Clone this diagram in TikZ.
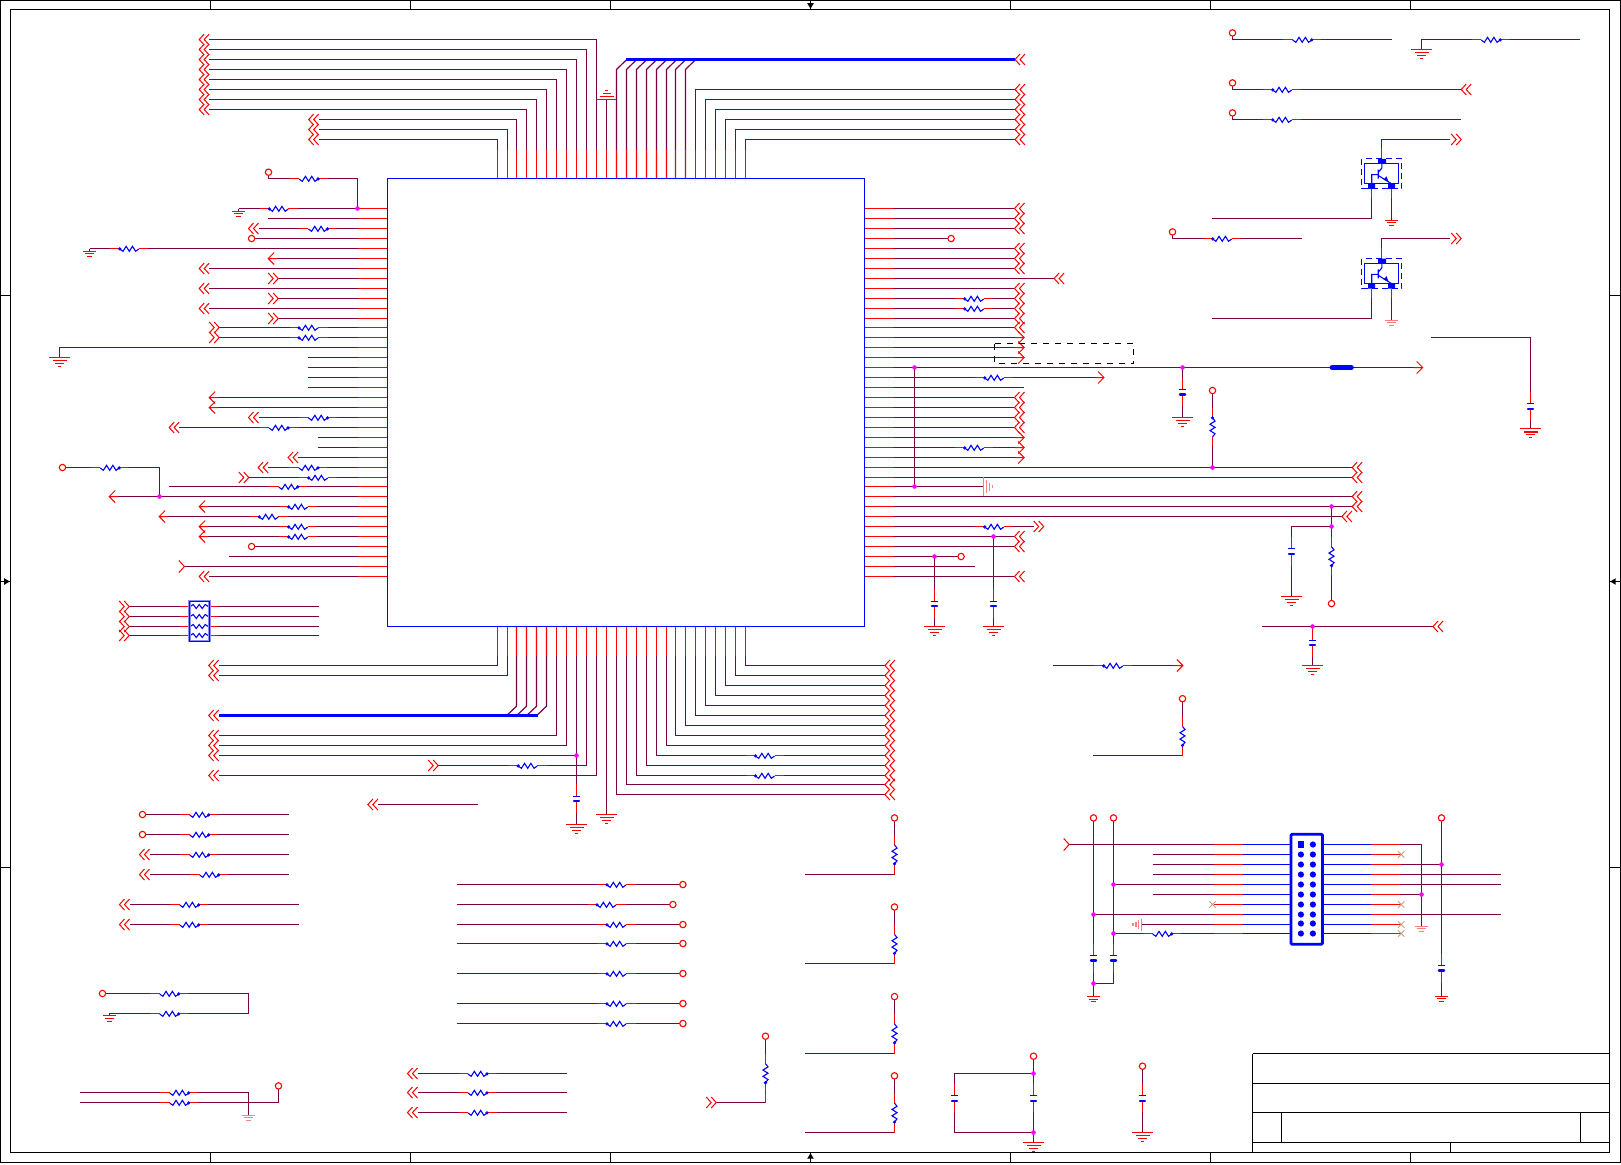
\documentclass[tikz,border=0pt]{standalone}
\definecolor{wirec}{HTML}{7D0045}
\definecolor{palered}{HTML}{FF8080}
\definecolor{xtan}{HTML}{C8A080}
\definecolor{jdc}{HTML}{FF00FF}
\tikzset{
 wirest/.style={draw=wirec,line width=.6pt},
 pinst/.style={draw=red,line width=.6pt},
 bluest/.style={draw=blue,line width=.55pt},
 portst/.style={draw=red,line width=.5pt,line join=miter},
 framest/.style={draw=black,line width=.6pt},
 busst/.style={draw=blue,line width=1.7pt},
}
\newcommand\pinL[1]{\draw[pinst] (358,#1)--(387.3,#1);}
\newcommand\pinR[1]{\draw[pinst] (864.3,#1)--(893.7,#1);}
\newcommand\pinT[1]{\draw[pinst] (#1,149.3)--(#1,178.3);}
\newcommand\pinB[1]{\draw[pinst] (#1,626.3)--(#1,655.3);}
\newcommand\Rh[3]{\begin{scope}[shift={(#1,#2)}]
 \draw[pinst] (-19,0)--(-9.5,0) (9.5,0)--(19,0);
 \fill[white] (-9.5,-3)rectangle(9.5,3);
 \draw[bluest] (-9.5,0.5)--(-6.33,2.8)--(-3.17,-2.2)--(0,2.8)--(3.17,-2.2)--(6.33,2.8)--(9.5,0.5);
 \fill[blue] (#3*9.5,0.4) circle (1.8);
 \end{scope}}
\newcommand\Rv[3]{\begin{scope}[shift={(#1,#2)}]
 \draw[pinst] (0,-19)--(0,-9.5) (0,9.5)--(0,19);
 \fill[white] (-3,-9.5)rectangle(3,9.5);
 \draw[bluest] (0,-9.5)--(2.5,-6.33)--(-2.5,-3.17)--(2.5,0)--(-2.5,3.17)--(2.5,6.33)--(0,9.5);
 \fill[blue] (0,#3*9.5) circle (1.8);
 \end{scope}}
\newcommand\dL[2]{\begin{scope}[shift={(#1,#2)}]\draw[portst] (5,-5.5)--(0,0)--(5,5.5) (10,-5.5)--(5,0)--(10,5.5);\end{scope}}
\newcommand\dR[2]{\begin{scope}[shift={(#1,#2)}]\draw[portst] (-5,-5.5)--(0,0)--(-5,5.5) (-10,-5.5)--(-5,0)--(-10,5.5);\end{scope}}
\newcommand\oL[2]{\begin{scope}[shift={(#1,#2)}]\draw[portst] (6,-6)--(0,0)--(6,6) (0,0)--(9,0);\end{scope}}
\newcommand\oR[2]{\begin{scope}[shift={(#1,#2)}]\draw[portst] (-6,-6)--(0,0)--(-6,6) (0,0)--(-9,0);\end{scope}}
\newcommand\yP[2]{\begin{scope}[shift={(#1,#2)}]\draw[portst] (-5.5,-6)--(0,0)--(-5.5,6);\end{scope}}
\newcommand\opn[2]{\draw[red,line width=.55pt,fill=white] (#1,#2) circle (3.2);}
\newcommand\jd[2]{\fill[jdc] (#1,#2) circle (2.3);}
\newcommand\gB[3][red]{\begin{scope}[shift={(#2,#3)}]\draw[draw=#1,line width=.55pt] (-10.3,0)--(10.3,0) (-7,3.3)--(7,3.3) (-4.2,6.2)--(4.2,6.2) (-1.5,9)--(1.5,9);\end{scope}}
\newcommand\gS[3][red]{\begin{scope}[shift={(#2,#3)}]\draw[draw=#1,line width=.55pt] (-6.3,0)--(6.3,0) (-4.3,2.7)--(4.3,2.7) (-2.2,5.2)--(2.2,5.2);\end{scope}}
\newcommand\capV[3]{%
 \fill[white] (#1-2,#2)rectangle(#1+2,#2+5);
 \draw[pinst] (#1,#2-12)--(#1,#2) (#1,#2+5)--(#1,#2+#3);
 \draw[bluest] (#1-3.6,#2)--(#1+3.6,#2);
 \draw[draw=blue,line width=1.1pt,line cap=round] (#1-2.6,#2+5)--(#1+2.6,#2+5);}
\newcommand\LW[2]{\draw[wirest] (#2,#1)--(387.3,#1);\pinL{#1}}
\newcommand\RW[2]{\draw[wirest] (864.3,#1)--(#2,#1);\pinR{#1}}
\newcommand\LP[2]{\LW{#1}{#2}\dL{#2-10}{#1}}
\newcommand\LQ[2]{\LW{#1}{#2}\dR{#2}{#1}}
\newcommand\RP[2]{\RW{#1}{#2}\dL{#2}{#1}}
\newcommand\TL[3]{\draw[wirest] (#1,178.3)--(#1,#2)--(#3,#2);\pinT{#1}}
\newcommand\BL[3]{\draw[wirest] (#1,626.3)--(#1,#2)--(#3,#2);\pinB{#1}}
\newcommand\VR[5]{%
 \draw[wirest] (#1,#2)--(#1,#4)--(#5,#4);
 \draw[pinst] (#1,#4-10)--(#1,#4);
 \Rv{#1}{#3}{1}\opn{#1}{#2}}
\newcommand\Qt[2]{\begin{scope}[shift={(#1,#2)}]
 \draw[draw=blue,line width=.5pt,densely dashed] (0,0) rectangle (40,30);
 \draw[bluest] (2.6,5) rectangle (37,25);
 \fill[blue] (16.3,0) rectangle (24.3,5) (6.3,24.6) rectangle (13.3,30) (26.3,24.6) rectangle (33.3,30);
 \draw[bluest] (16.3,10.6)--(16.3,19.6) (9.8,24.6)--(9.8,15.7)--(16.3,15.7) (16.3,13.5)--(20,9)--(20,5) (16.3,16.5)--(29.8,25);
 \fill[blue] (26.6,22.8)--(21.6,20.8)--(24.6,17.4)--cycle;
 \end{scope}}
\newcommand\XM[2]{\draw[draw=xtan,line width=.4pt] (#1-3.2,#2-3.2)--(#1+3.2,#2+3.2) (#1-3.2,#2+3.2)--(#1+3.2,#2-3.2);}
\begin{document}
\begin{tikzpicture}[x=.5pt,y=-.5pt]
\useasboundingbox (0,0) rectangle (1621,1164);
\fill[white] (0,0) rectangle (1621,1164);
\begin{scope}[shift={(0.2,0.2)}]
%% frame
\draw[framest] (0.3,0.3) rectangle (1620,1162.3);
\draw[framest] (10.3,9.3) rectangle (1609.3,1152.3);
\foreach \tx in {210.3,410.3,610.3,810.3,1010.3,1210.3,1410.3}{
 \draw[framest] (\tx,0.3)--(\tx,9.3) (\tx,1152.3)--(\tx,1162.3);}
\foreach \ty in {295.3,581.3,867.3}{
 \draw[framest] (0.3,\ty)--(10.3,\ty) (1609.3,\ty)--(1620,\ty);}
\fill[black] (810.3,8.5)--(807,3)--(813.6,3)--cycle;
\fill[black] (810.3,1153)--(807,1158.5)--(813.6,1158.5)--cycle;
\fill[black] (9.5,581.3)--(4,578)--(4,584.6)--cycle;
\fill[black] (1610,581.3)--(1615.5,578)--(1615.5,584.6)--cycle;
%% title block
\draw[framest] (1252.3,1053.3)--(1609.3,1053.3) (1252.3,1083.3)--(1609.3,1083.3) (1252.3,1112.3)--(1609.3,1112.3) (1252.3,1142.3)--(1609.3,1142.3);
\draw[framest] (1252.3,1053.3)--(1252.3,1152.3) (1281.3,1112.3)--(1281.3,1142.3) (1580.3,1112.3)--(1580.3,1142.3) (1450.3,1142.3)--(1450.3,1152.3);

%% ---- top side, leftwards
\foreach \px/\py/\pe in {497.3/139.3/318.5,507.3/129.3/318.5,516.3/119.3/318.5,526.3/109.3/209,536.3/99.3/209,546.3/89.3/209,556.3/79.3/209,566.3/69.3/209,576.3/59.3/209,586.3/49.3/209,596.3/39.3/209}{
 \TL{\px}{\py}{\pe}\dL{\pe-10}{\py}}
%% top ground
\draw[wirest] (606.3,178.3)--(606.3,99.3);\pinT{606.3}
\draw[portst] (596.3,99.3)--(616.3,99.3) (599.3,96.3)--(613.3,96.3) (602.3,93.3)--(610.3,93.3) (604.5,90.3)--(608.1,90.3);
%% top bus
\foreach \px in {616.3,626.3,636.3,646.3,656.3,666.3,675.3,685.3}{
 \draw[wirest] (\px,178.3)--(\px,69.3)--(\px+9.5,60);\pinT{\px}}
\draw[busst] (625.7,59.3)--(1014.8,59.3);
\dL{1014.8}{59.3}
%% top rightwards
\foreach \px/\py in {695.3/89.3,705.3/99.3,715.3/109.3,725.3/119.3,735.3/129.3,745.3/139.3}{
 \TL{\px}{\py}{1014.8}\dL{1014.8}{\py}}

%% ---- left side
\draw[wirest] (268.3,172)--(268.3,178.3)--(357.3,178.3)--(357.3,208.3);
\Rh{308.4}{178.3}{1}\opn{268.3}{172}
\LW{208.3}{238.3}\draw[wirest] (238.3,208.3)--(238.3,211);\gS{238.3}{211}\Rh{278.6}{208.3}{-1}\pinL{208.3}
\LW{218.3}{268}
\LP{228.3}{258.3}\Rh{317.7}{228.3}{1}
\LW{238.3}{254.5}\opn{251.4}{238.3}
\LW{248.3}{89.3}\draw[wirest] (89.3,248.3)--(89.3,251);\gS{89.3}{251}\Rh{129.1}{248.3}{-1}
\LW{258.3}{268}\oL{268}{258.3}
\LP{268.3}{209}
\LQ{278.3}{278}
\LP{288.3}{209}
\LQ{298.3}{278}
\LP{308.3}{209}
\LQ{318.3}{278}
\LW{327.3}{219}\dR{219}{327.3}\Rh{308.4}{327.3}{-1}
\LW{337.3}{219}\dR{219}{337.3}\Rh{308.4}{337.3}{-1}
\draw[wirest] (59.3,357.3)--(59.3,347.3)--(387.3,347.3);\pinL{347.3}\gB{59.3}{357.3}
\foreach \yy in {357.3,367.3,377.3,387.3}{\LW{\yy}{307.9}}
\LW{397.3}{209}\oL{209}{397.3}
\LW{407.3}{209}\oL{209}{407.3}
\LP{417.3}{258.3}\Rh{317.8}{417.3}{1}
\LP{427.3}{179}\Rh{278.4}{427.3}{1}
\LW{437.3}{317.5}
\LW{447.3}{317.5}
\LP{457.3}{297.9}
\LP{467.3}{268}\Rh{308.2}{467.3}{1}
\LQ{477.3}{248.6}\Rh{318}{477.3}{-1}
\LW{486.3}{168.7}\Rh{288}{486.3}{1}
\draw[wirest] (65.5,467.3)--(159.3,467.3)--(159.3,496.3);\Rh{109.5}{467.3}{1}\opn{62.3}{467.3}
\LW{496.3}{109}\oL{109}{496.3}
\LW{506.3}{199}\oL{199}{506.3}\Rh{298}{506.3}{-1}
\LW{516.3}{159}\oL{159}{516.3}\Rh{268.6}{516.3}{-1}
\LW{526.3}{199}\oL{199}{526.3}\Rh{298}{526.3}{-1}
\LW{536.3}{199}\oL{199}{536.3}\Rh{298}{536.3}{-1}
\LW{546.3}{254.5}\opn{251.4}{546.3}
\LW{556.3}{228.3}
\LW{566.3}{184.2}\yP{184.2}{566.3}
\LP{576.3}{209}

%% resistor pack
\foreach \yy in {606.3,616.3,626.3,635.3}{
 \draw[wirest] (129,\yy)--(318.5,\yy);\dR{129}{\yy}
 \draw[pinst] (180,\yy)--(189,\yy) (209,\yy)--(218,\yy);
 \fill[white] (189,\yy-3) rectangle (209,\yy+3);
 \draw[bluest] (190,\yy)--(193,\yy-2)--(196,\yy+2)--(199,\yy-2)--(202,\yy+2)--(205,\yy-2)--(208,\yy);}
\draw[draw=blue!45,line width=1.1pt] (189.3,600.7) rectangle (209.3,640.7);
\draw[draw=blue,line width=.25pt] (189.3,600.7) rectangle (209.3,640.7);

%% ---- bottom side
\BL{497.3}{665.3}{218.5}\dL{208.5}{665.3}
\BL{507.3}{675.3}{218.5}\dL{208.5}{675.3}
\foreach \px in {516.3,526.3,536.3,546.3}{
 \draw[wirest] (\px,626.3)--(\px,706)--(\px-9.5,715);\pinB{\px}}
\draw[busst] (218.5,715.3)--(537.5,715.3);\dL{208.5}{715.3}
\BL{556.3}{735.3}{218.5}\dL{208.5}{735.3}
\BL{566.3}{745.3}{218.5}\dL{208.5}{745.3}
\draw[wirest] (576.3,626.3)--(576.3,796) (576.3,801.3)--(576.3,824.3) (576.3,755.3)--(218.5,755.3);
\pinB{576.3}\capV{576.3}{796}{17}\gB{576.3}{824.3}\dL{208.5}{755.3}
\BL{586.3}{765.3}{438}\dR{438}{765.3}\Rh{527.5}{765.3}{-1}
\BL{596.3}{775.3}{218.5}\dL{208.5}{775.3}
\draw[wirest] (606.3,626.3)--(606.3,814.3);\pinB{606.3}\gB{606.3}{814.3}
\foreach \px/\py in {616.3/794.3,626.3/784.3,636.3/775.3,646.3/765.3,656.3/755.3,666.3/745.3,675.3/735.3,685.3/725.3,695.3/715.3,705.3/705.3,715.3/695.3,725.3/685.3,735.3/675.3,745.3/665.3}{
 \BL{\px}{\py}{884.7}\dL{884.7}{\py}}
\Rh{764.8}{775.3}{-1}
\Rh{764.8}{755.3}{-1}
\draw[wirest] (378.2,804.3)--(477.4,804.3);\dL{367.7}{804.3}

%% ---- right side
\RP{208.3}{1014.3}\RP{218.3}{1014.3}\RP{228.3}{1014.3}
\RW{238.3}{948}\opn{950.9}{238.3}
\RP{248.3}{1014.3}\RP{258.3}{1014.3}\RP{268.3}{1014.3}
\RP{278.3}{1053.9}
\RP{288.3}{1014.3}
\RP{298.3}{1014.3}\Rh{974}{298.3}{-1}
\RP{308.3}{1014.3}\Rh{974}{308.3}{-1}
\RP{318.3}{1014.3}\RP{327.3}{1014.3}
\RW{337.3}{1024}\oR{1024}{337.3}
\RW{347.3}{1024}\oR{1024}{347.3}
\RW{357.3}{1024}\oR{1024}{357.3}
\draw[draw=black,line width=.5pt,dashed] (994.3,343.3) rectangle (1133.3,363.3);
%% long net with inductor
\RW{367.3}{1422.5}\oR{1422.5}{367.3}
\draw[draw=blue,line width=2.6pt,line cap=round] (1332,367.3)--(1351,367.3);
\draw[wirest] (914.3,367.3)--(914.3,486.3);
\draw[wirest] (1182.3,367.3)--(1182.3,389.3) (1182.3,394.3)--(1182.3,417);
\capV{1182.3}{389.3}{16}\gB{1182.3}{417}
\RW{377.3}{1103.8}\oR{1103.8}{377.3}\Rh{994}{377.3}{-1}
\RW{387.3}{1023.9}
\RP{397.3}{1014.3}\RP{407.3}{1014.3}\RP{417.3}{1014.3}\RP{427.3}{1014.3}
\RW{437.3}{1024}\oR{1024}{437.3}
\RW{447.3}{1024}\oR{1024}{447.3}\Rh{974}{447.3}{-1}
\RW{457.3}{1024}\oR{1024}{457.3}
\RP{467.3}{1352}
\draw[wirest] (1212.3,390.3)--(1212.3,467.3);\Rv{1212.3}{427.2}{-1}\opn{1212.3}{390.3}
\RP{477.3}{1352}
\RW{486.3}{983.3}
\draw[draw=palered,line width=.8pt] (983.3,476.7)--(983.3,496.3) (986.3,480)--(986.3,493) (989.3,482.5)--(989.3,490.5) (992.3,485)--(992.3,488);
\RP{496.3}{1352}
\RP{506.3}{1352}
\RP{516.3}{1341.7}
\draw[wirest] (1331.3,506.3)--(1331.3,603.4) (1331.3,526.3)--(1291.3,526.3)--(1291.3,548.7) (1291.3,553.7)--(1291.3,596);
\Rv{1331.3}{556}{1}\opn{1331.3}{603.4}
\capV{1291.3}{548.7}{17}\gB{1291.3}{596}
\RW{526.3}{1033.5}\dR{1043.5}{526.3}\Rh{994}{526.3}{-1}
\RP{536.3}{1014.3}\RP{546.3}{1014.3}
\draw[wirest] (993.3,536.3)--(993.3,601) (993.3,606)--(993.3,626);
\capV{993.3}{601}{17}\gB{993.3}{626}
\RW{556.3}{958}\opn{960.9}{556.3}
\draw[wirest] (934.3,556.3)--(934.3,601) (934.3,606)--(934.3,626);
\capV{934.3}{601}{17}\gB{934.3}{626}
\RW{566.3}{974.3}
\RP{576.3}{1014.3}

%% IC box
\draw[draw=blue,line width=.6pt] (387.3,178.3) rectangle (864.3,626.3);

%% ---- top right
\draw[wirest] (1232.3,32.7)--(1232.3,39.3)--(1391.7,39.3);\Rh{1302}{39.3}{1}\opn{1232.3}{32.7}
\draw[wirest] (1421.3,49.3)--(1421.3,39.3)--(1580,39.3);\Rh{1490.5}{39.3}{1}\gB{1421.3}{49.3}
\draw[wirest] (1232.3,82.7)--(1232.3,89.3)--(1461,89.3);\Rh{1282}{89.3}{-1}\opn{1232.3}{82.7}\dL{1461}{89.3}
\draw[wirest] (1232.3,112.7)--(1232.3,119.3)--(1461,119.3);\Rh{1282}{119.3}{-1}\opn{1232.3}{112.7}
%% transistors
\draw[wirest] (1381.3,158.7)--(1381.3,139.3)--(1450,139.3);\draw[pinst] (1381.3,148)--(1381.3,158.7);\dR{1461}{139.3}
\draw[wirest] (1371.3,188.7)--(1371.3,218.3)--(1212,218.3);\draw[pinst] (1371.3,188.7)--(1371.3,198);
\draw[wirest] (1391.3,188.7)--(1391.3,220);\draw[pinst] (1391.3,188.7)--(1391.3,198);\gS{1391.3}{220}
\Qt{1361.7}{158.7}
\draw[wirest] (1381.3,258.5)--(1381.3,238.3)--(1450,238.3);\draw[pinst] (1381.3,248)--(1381.3,258.5);\dR{1461}{238.3}
\draw[wirest] (1371.3,288.5)--(1371.3,318.3)--(1212,318.3);\draw[pinst] (1371.3,288.5)--(1371.3,298);
\draw[wirest] (1391.3,288.5)--(1391.3,320);\draw[pinst] (1391.3,288.5)--(1391.3,298);\gS[palered]{1391.3}{320}
\Qt{1361.7}{258.5}
\draw[wirest] (1172.3,231.7)--(1172.3,238.3)--(1301.8,238.3);\Rh{1222}{238.3}{-1}\opn{1172.3}{231.7}
%% right cap
\draw[wirest] (1430.7,337.3)--(1530.3,337.3)--(1530.3,403.6) (1530.3,408.6)--(1530.3,428.5);
\capV{1530.3}{403.6}{17}\gB{1530.3}{428.5}

%% ---- middle right
\draw[wirest] (1261.7,626.3)--(1432.8,626.3);\dL{1432.8}{626.3}
\draw[wirest] (1312.3,626.3)--(1312.3,640) (1312.3,645)--(1312.3,665.3);
\capV{1312.3}{640}{17}\gB{1312.3}{665.3}
\draw[wirest] (1053,665.3)--(1182.7,665.3);\oR{1182.7}{665.3}\Rh{1113}{665.3}{-1}
\VR{1182.3}{698.5}{735.7}{755.3}{1092.7}

%% ---- JTAG
\draw[wirest] (1093.3,817.7)--(1093.3,955.3) (1093.3,960.3)--(1093.3,996.3);
\draw[wirest] (1113.3,817.7)--(1113.3,955.3) (1113.3,960.3)--(1113.3,983.3)--(1093.3,983.3);
\foreach \yy in {844.3,854.3,864.3,874.3,884.3,894.3,904.3,914.3,924.3,933.3}{
 \draw[draw=blue,line width=.55pt] (1242.3,\yy)--(1290.7,\yy) (1322.3,\yy)--(1371,\yy);
 \draw[pinst] (1213.3,\yy)--(1242.3,\yy) (1371,\yy)--(1400.7,\yy);}
\draw[wirest] (1069,844.3)--(1213.3,844.3);\yP{1069}{844.3}
\draw[wirest] (1152.3,854.3)--(1213.3,854.3) (1152.3,864.3)--(1213.3,864.3) (1152.3,874.3)--(1213.3,874.3) (1152.3,894.3)--(1213.3,894.3);
\draw[wirest] (1113.3,884.3)--(1213.3,884.3) (1093.3,914.3)--(1213.3,914.3);
\XM{1212.3}{904.3}
\draw[wirest] (1141,924.3)--(1213.3,924.3);
\draw[draw=palered,line width=.9pt] (1141.3,918.3)--(1141.3,930.3) (1138.3,919.8)--(1138.3,928.8) (1135.6,921.5)--(1135.6,927) (1133,923)--(1133,925.5);
\draw[wirest] (1113.3,933.3)--(1213.3,933.3);\Rh{1162}{933.3}{1}
\capV{1093.3}{955.3}{17}\capV{1113.3}{955.3}{17}\gS{1093.3}{996.3}
\opn{1093.3}{817.7}\opn{1113.3}{817.7}
\draw[draw=blue,line width=1.4pt,rounded corners=.6pt] (1290.7,834) rectangle (1322.3,944);
\fill[blue] (1297.5,841) rectangle (1304,847.6);
\foreach \yy in {854.3,864.3,874.3,884.3,894.3,904.3,914.3,923.3,933.3}{\fill[blue] (1300.7,\yy) circle (3.1);}
\foreach \yy in {844.3,854.3,864.3,874.3,884.3,894.3,904.3,914.3,923.3,933.3}{\fill[blue] (1312.7,\yy) circle (3.1);}
\draw[wirest] (1400.7,844.3)--(1421.3,844.3)--(1421.3,926);\gS[palered]{1421.3}{926}
\draw[wirest] (1400.7,894.3)--(1421.3,894.3) (1400.7,864.3)--(1441.3,864.3);
\draw[wirest] (1400.7,874.3)--(1501,874.3) (1400.7,884.3)--(1501,884.3) (1400.7,914.3)--(1501,914.3);
\draw[wirest] (1441.3,817.7)--(1441.3,965.3) (1441.3,970.3)--(1441.3,996);
\capV{1441.3}{965.3}{17}\gS{1441.3}{996}\opn{1441.3}{817.7}
\XM{1401}{854.3}\XM{1401}{904.3}\XM{1401}{924.3}\XM{1401}{933.3}

%% ---- bottom left
\foreach \yy/\xc in {814.3/199,834.3/199}{
 \draw[wirest] (142.3,\yy)--(288.7,\yy);\Rh{\xc}{\yy}{1}\opn{142.3}{\yy}}
\foreach \yy/\xc in {854.3/199,874.3/209}{
 \draw[wirest] (149.3,\yy)--(288.7,\yy);\Rh{\xc}{\yy}{1}\dL{139.3}{\yy}}
\foreach \yy in {904.3,924.3}{
 \draw[wirest] (129.3,\yy)--(298.7,\yy);\Rh{189}{\yy}{1}\dL{119.3}{\yy}}
\draw[wirest] (102.3,993.3)--(248.3,993.3)--(248.3,1013.3)--(109.3,1013.3)--(109.3,1015.7);
\Rh{169}{993.3}{1}\Rh{169}{1013.3}{1}\opn{102.3}{993.3}\gS{109.3}{1015.7}
\draw[wirest] (79.3,1092.3)--(248.3,1092.3)--(248.3,1115);
\draw[wirest] (79.3,1102.3)--(278.3,1102.3)--(278.3,1085.7);
\Rh{179}{1092.3}{1}\Rh{179}{1102.3}{1}\opn{278.3}{1085.7}\gS[palered]{248.3}{1115}

%% ---- bottom middle
\foreach \yy/\xc/\xe in {884.3/616.3/682.7,904.3/606.3/672.7,924.3/616.3/682.7,943.3/616.3/682.7,973.3/616.3/682.7,1003.3/616.3/682.7,1023.3/616.3/682.7}{
 \draw[wirest] (457,\yy)--(\xe,\yy);\Rh{\xc}{\yy}{-1}\opn{\xe}{\yy}}
\foreach \yy in {1073.3,1092.3,1112.3}{
 \draw[wirest] (417.3,\yy)--(566.7,\yy);\Rh{477.3}{\yy}{1}\dL{407.3}{\yy}}
\VR{765.3}{1036}{1073}{1102.3}{716}\dR{716}{1102.3}
\VR{894.3}{817.7}{854.2}{874.3}{805}
\VR{894.3}{906.8}{943.7}{963.3}{805}
\VR{894.3}{996.4}{1033.2}{1053.3}{805}
\VR{894.3}{1075.6}{1112.4}{1132.3}{805}
%% caps bottom
\draw[wirest] (954.3,1095.6)--(954.3,1073.3)--(1033.3,1073.3)--(1033.3,1056);
\draw[wirest] (954.3,1100.6)--(954.3,1132.3)--(1033.3,1132.3);
\draw[wirest] (1033.3,1073.3)--(1033.3,1095.6) (1033.3,1100.6)--(1033.3,1142.4);
\capV{954.3}{1095.6}{17}\capV{1033.3}{1095.6}{17}
\opn{1033.3}{1056}\gB{1033.3}{1142.4}
\draw[wirest] (1142.3,1066)--(1142.3,1095.6) (1142.3,1100.6)--(1142.3,1132.3);
\capV{1142.3}{1095.6}{17}\opn{1142.3}{1066}\gB{1142.3}{1132.3}

%% ---- junction dots, on top of everything
\jd{357.3}{208.3}\jd{159.3}{496.3}\jd{576.3}{755.3}
\jd{914.3}{367.3}\jd{1182.3}{367.3}\jd{1212.3}{467.3}\jd{914.3}{486.3}
\jd{1331.3}{506.3}\jd{1331.3}{526.3}\jd{993.3}{536.3}\jd{934.3}{556.3}
\jd{1312.3}{626.3}
\jd{1113.3}{884.3}\jd{1093.3}{914.3}\jd{1113.3}{933.3}\jd{1093.3}{983.3}
\jd{1421.3}{894.3}\jd{1441.3}{864.3}
\jd{1033.3}{1073.3}\jd{1033.3}{1132.3}
\end{scope}
\end{tikzpicture}
\end{document}
